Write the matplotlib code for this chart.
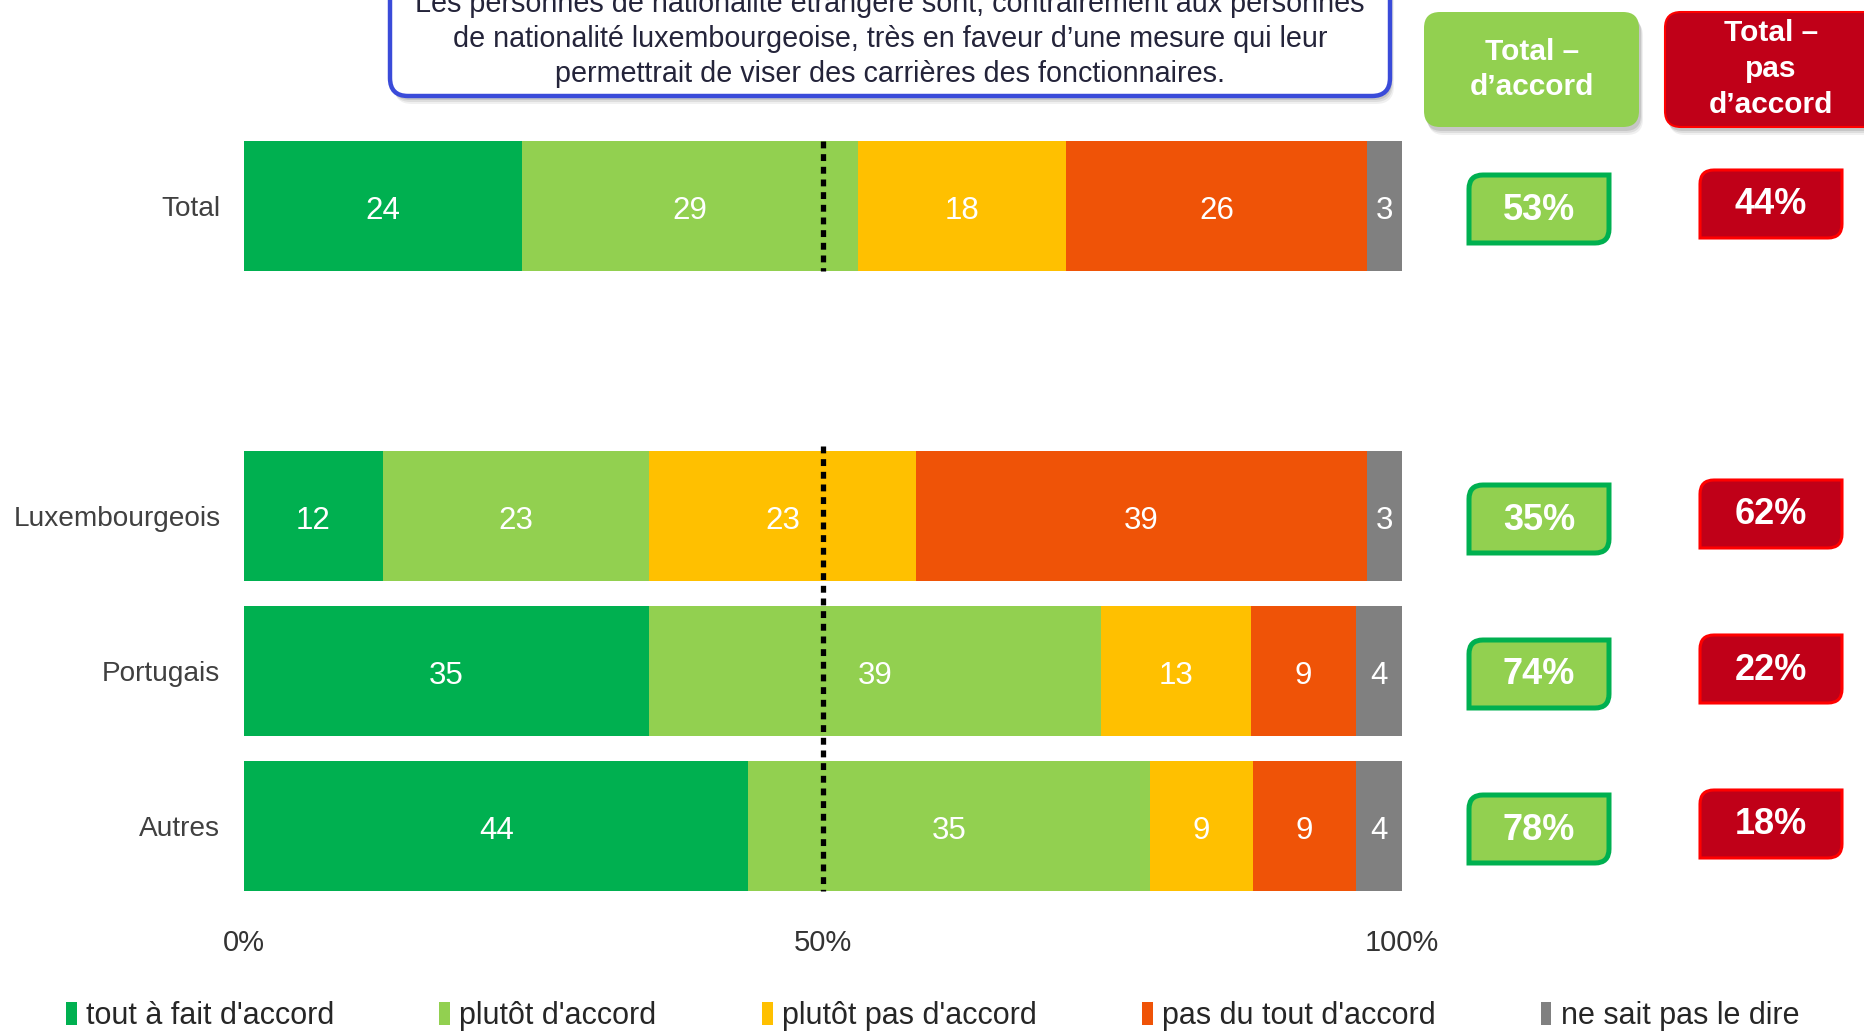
import numpy as np
import matplotlib.pyplot as plt
from matplotlib.patches import FancyBboxPatch, PathPatch
from matplotlib.path import Path

W, H = 1865, 1031

groups = ["Total", "Luxembourgeois", "Portugais", "Autres"]
rows = [0, 2, 3, 4]  # empty slot between Total and the nationalities
categories = ["tout à fait d'accord", "plutôt d'accord", "plutôt pas d'accord",
              "pas du tout d'accord", "ne sait pas le dire"]
colors = ["#00B050", "#92D050", "#FFC000", "#EF5307", "#808080"]

tout_accord = [24, 12, 35, 44]
plutot_accord = [29, 23, 39, 35]
plutot_pas = [18, 23, 13, 9]
pas_du_tout = [26, 39, 9, 9]
ne_sait_pas = [3, 3, 4, 4]

total_accord = [53, 35, 74, 78]
total_pas_accord = [44, 62, 22, 18]

title_lines = ["Les personnes de nationalité étrangère sont, contrairement aux personnes",
               "de nationalité luxembourgeoise, très en faveur d\u2019une mesure qui leur",
               "permettrait de viser des carrières des fonctionnaires."]

plt.rcParams['font.family'] = ['Liberation Sans', 'DejaVu Sans']

fig = plt.figure(figsize=(W / 100, H / 100), dpi=100)
ax = fig.add_axes([244 / W, 1 - 903.5 / H, 1158 / W, 775 / H])

bar_h = 0.84
series = np.array([tout_accord, plutot_accord, plutot_pas, pas_du_tout, ne_sait_pas], dtype=float)
shares = series / series.sum(axis=0) * 100
left = np.zeros(len(groups))
for k in range(len(categories)):
    ax.barh(rows, shares[k], left=left, height=bar_h, color=colors[k], label=categories[k])
    for r, l, w, v in zip(rows, left, shares[k], series[k]):
        ax.text(l + w / 2, r + 0.03, f"{int(v)}", ha='center', va='center',
                color='white', fontsize=22.5)
    left += shares[k]

# 50% reference line, one piece per block
rows_arr = np.array(rows, dtype=float)
ax.plot([50, 50], [rows_arr[0] - bar_h / 2, rows_arr[0] + bar_h / 2], color='black',
        linewidth=3.8, linestyle=(0, (1.3, 1.1)), solid_capstyle='butt')
ax.plot([50, 50], [rows_arr[1] - bar_h / 2 - 0.03, rows_arr[-1] + bar_h / 2], color='black',
        linewidth=3.8, linestyle=(0, (1.3, 1.1)), solid_capstyle='butt')

ax.set_xlim(0, 100)
ax.set_ylim(4.5, -0.5)
ax.set_xticks([0, 50, 100], ["0%", "50%", "100%"])
ax.set_yticks(rows, groups)
ax.tick_params(axis='x', length=0, pad=18.5, labelsize=21, labelcolor='#333333')
ax.tick_params(axis='y', length=0, pad=17, labelsize=20.2, labelcolor='#404040')
for s in ax.spines.values():
    s.set_visible(False)

# overlay in pixel coordinates (top-down) for the boxes around the chart
ov = fig.add_axes([0, 0, 1, 1], zorder=3)
ov.set_xlim(0, W)
ov.set_ylim(H, 0)
ov.axis('off')
ov.patch.set_visible(False)


def diag_box(cx, cy, w, h, r, fc, ec, lw):
    x0, x1 = cx - w / 2, cx + w / 2
    y0, y1 = cy - h / 2, cy + h / 2
    verts = [(x0 + r, y0), (x1, y0), (x1, y1 - r), (x1, y1), (x1 - r, y1),
             (x0, y1), (x0, y0 + r), (x0, y0), (x0 + r, y0), (x0 + r, y0)]
    codes = [Path.MOVETO, Path.LINETO, Path.LINETO, Path.CURVE3, Path.CURVE3,
             Path.LINETO, Path.LINETO, Path.CURVE3, Path.CURVE3, Path.CLOSEPOLY]
    ov.add_patch(PathPatch(Path(verts, codes), facecolor=fc, edgecolor=ec, linewidth=lw))


def rounded(x, y, w, h, r, fc, ec='none', lw=0, shadow=False):
    if shadow:
        for i, a in enumerate([0.10, 0.08, 0.06]):
            ov.add_patch(FancyBboxPatch((x + 2 + i, y + 4 + 2 * i), w, h,
                                        boxstyle=f"round,pad=0,rounding_size={r}",
                                        facecolor='black', edgecolor='none', alpha=a))
    ov.add_patch(FancyBboxPatch((x, y), w, h, boxstyle=f"round,pad=0,rounding_size={r}",
                                facecolor=fc, edgecolor=ec, linewidth=lw))


# question box (top cut off)
rounded(390, -120, 1000, 216, 18, 'white', '#3A4BD9', 3.2, shadow=True)
for i, line in enumerate(title_lines):
    ov.text(890, 4 + 35 * i, line, ha='center', va='center', fontsize=20.7, color='#24243a')

# column headers
rounded(1424, 12, 215, 115, 16, '#92D050', shadow=True)
for i, line in enumerate(["Total \u2013", "d\u2019accord"]):
    ov.text(1532, 52 + 35 * i, line, ha='center', va='center', fontsize=21.5,
            fontweight='bold', color='white')
rounded(1665, 12, 230, 115, 16, '#C00018', '#FF0000', 1.5, shadow=True)
for i, line in enumerate(["Total \u2013", "pas", "d\u2019accord"]):
    ov.text(1771, 33 + 36 * i, line, ha='center', va='center', fontsize=21.5,
            fontweight='bold', color='white')

# totals per row
pts = ax.transData.transform(np.column_stack([np.zeros(len(rows)), rows_arr]))
yc = H - pts[:, 1]
for y, ta, tp in zip(yc, total_accord, total_pas_accord):
    diag_box(1539, y + 3, 140, 68, 14, '#92D050', '#00B050', 3.6)
    ov.text(1539, y + 4, f"{ta}%", ha='center', va='center', fontsize=26,
            fontweight='bold', color='white')
    diag_box(1771, y - 2, 142, 68, 14, '#C00018', '#FF0000', 2.2)
    ov.text(1771, y - 1, f"{tp}%", ha='center', va='center', fontsize=26,
            fontweight='bold', color='white')

handles, labels = ax.get_legend_handles_labels()
fig.legend(handles, labels, loc='center', bbox_to_anchor=(0.5, 1 - 1016 / H), ncol=5,
           frameon=False, fontsize=22, handlelength=0.35, handleheight=0.8,
           handletextpad=0.3, columnspacing=3.45, labelcolor='#262626')

fig.savefig('out.png', dpi=100)
